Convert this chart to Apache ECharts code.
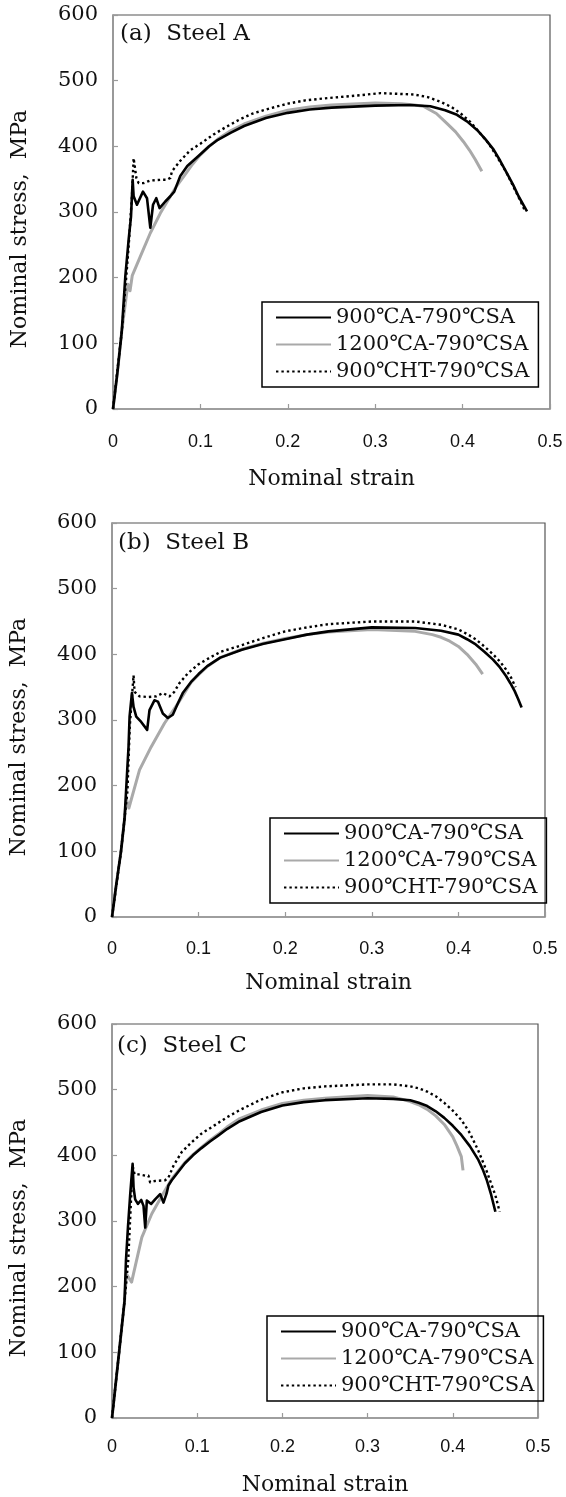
<!DOCTYPE html>
<html>
<head>
<meta charset="utf-8">
<script src="https://cdn.jsdelivr.net/npm/echarts@6/dist/echarts.min.js"></script>
<style>
html,body{margin:0;padding:0;background:#fff;}
#c{width:566px;height:1497px;}
</style>
</head>
<body>
<div id="c"></div>
<script>
// ---- data ----
const seriesNames = ['900℃A-790℃SA', '1200℃A-790℃SA', '900℃HT-790℃SA'];
const panelTitles = ['(a)  Steel A', '(b)  Steel B', '(c)  Steel C'];
const xTicks = [0, 0.1, 0.2, 0.3, 0.4, 0.5];
const yTicks = [0, 100, 200, 300, 400, 500, 600];
const xName = 'Nominal strain';
const yName = 'Nominal stress,  MPa';

// Steel A
const aBlack = [[0,0],[0.005,55],[0.010,118],[0.0141,202],[0.0179,258],[0.0206,293],[0.0225,349],[0.0236,324],[0.0274,311],[0.0343,331],[0.0389,321],[0.0427,276],[0.0458,311],[0.0495,321],[0.0533,306],[0.0598,316],[0.0656,324],[0.0701,331],[0.077,355],[0.085,370],[0.1,388],[0.11,400],[0.12,410],[0.135,421],[0.15,431],[0.175,443],[0.2,451],[0.225,456],[0.25,459],[0.3,462],[0.34,463],[0.363,461],[0.38,455],[0.3936,448],[0.405,438],[0.4165,425],[0.426,411],[0.4355,395],[0.443,378],[0.4508,359],[0.458,341],[0.464,324],[0.4737,301]];
const aGray = [[0,0],[0.005,55],[0.010,118],[0.015,170],[0.017,190],[0.0195,180],[0.022,203],[0.0312,232],[0.0427,268],[0.0541,298],[0.0656,324],[0.073,340],[0.0808,354],[0.09,371],[0.1,387],[0.11,400],[0.12,411],[0.135,424],[0.15,434],[0.175,446],[0.2,455],[0.225,460],[0.25,463],[0.3,466],[0.33,465],[0.345,463],[0.355,461],[0.37,450],[0.382,435],[0.392,422],[0.401,407],[0.408,394],[0.4145,380],[0.422,362]];
const aDot = [[0,0],[0.0103,121],[0.0152,202],[0.0179,248],[0.0217,324],[0.0236,382],[0.0267,352],[0.0293,344],[0.035,344],[0.0427,348],[0.0541,349],[0.0618,349],[0.0656,352],[0.0675,362],[0.077,378],[0.0884,394],[0.1,404],[0.115,418],[0.13,430],[0.145,441],[0.16,450],[0.18,458],[0.2,465],[0.22,470],[0.242,473],[0.284,478],[0.306,481],[0.325,480],[0.344,479],[0.36,475],[0.3745,468],[0.387,460],[0.397,451],[0.409,437],[0.42,420],[0.43,404],[0.439,385],[0.449,363],[0.458,339],[0.465,320],[0.4717,301]];

// Steel B
const bBlack = [[0,0],[0.005,50],[0.0104,100],[0.0145,150],[0.0176,224],[0.0191,259],[0.0203,305],[0.023,341],[0.0249,320],[0.028,305],[0.0337,297],[0.0406,285],[0.0433,315],[0.049,330],[0.053,328],[0.0587,310],[0.0645,303],[0.0702,308],[0.076,325],[0.0817,341],[0.0913,358],[0.1,370],[0.11,382],[0.125,395],[0.15,407],[0.175,416],[0.2,423],[0.225,430],[0.25,435],[0.3,441],[0.35,440],[0.38,436],[0.4,430],[0.41,423],[0.42,415],[0.43,404],[0.44,392],[0.448,380],[0.455,367],[0.46,356],[0.465,344],[0.469,332],[0.473,319]];
const bGray = [[0,0],[0.005,50],[0.0104,100],[0.0145,150],[0.0166,180],[0.0195,166],[0.0318,224],[0.0452,259],[0.0606,295],[0.076,325],[0.0913,357],[0.1,369],[0.1105,382],[0.125,395],[0.15,408],[0.175,417],[0.2,424],[0.225,430],[0.25,434],[0.3,438],[0.35,435],[0.37,430],[0.38,426],[0.39,420],[0.4,412],[0.41,400],[0.42,385],[0.428,370]];
const bDot = [[0,0],[0.0104,100],[0.0145,150],[0.0178,191],[0.0205,290],[0.0249,368],[0.026,343],[0.0318,336],[0.0414,335],[0.051,336],[0.0587,341],[0.0663,336],[0.072,343],[0.0778,356],[0.0875,371],[0.099,384],[0.1143,396],[0.1258,404],[0.15,414],[0.175,425],[0.2,435],[0.225,441],[0.25,446],[0.3,450],[0.35,450],[0.38,445],[0.4,438],[0.41,431],[0.42,423],[0.43,412],[0.44,400],[0.448,389],[0.455,377],[0.461,364],[0.466,350]];

// Steel C
const cBlack = [[0,0],[0.0084,101],[0.0147,178],[0.0164,240],[0.0187,290],[0.0214,341],[0.0242,387],[0.0253,351],[0.0272,333],[0.0304,326],[0.0343,332],[0.037,323],[0.039,290],[0.0409,331],[0.046,326],[0.0506,333],[0.0565,341],[0.0604,328],[0.0643,343],[0.0662,354],[0.0701,362],[0.0856,388],[0.095,400],[0.105,411],[0.115,421],[0.1246,430],[0.135,440],[0.15,452],[0.175,466],[0.2,476],[0.225,481],[0.25,484],[0.3,487],[0.33,486],[0.35,484],[0.36,480],[0.37,475],[0.38,467],[0.39,457],[0.4,445],[0.41,431],[0.42,414],[0.43,393],[0.435,379],[0.44,362],[0.445,340],[0.45,314]];
const cGray = [[0,0],[0.0084,101],[0.0147,178],[0.017,219],[0.023,207],[0.035,275],[0.0467,311],[0.0584,338],[0.0701,364],[0.0856,389],[0.095,401],[0.105,412],[0.115,423],[0.1246,432],[0.135,443],[0.15,456],[0.175,469],[0.2,479],[0.225,484],[0.25,487],[0.3,491],[0.33,489],[0.35,482],[0.36,477],[0.37,470],[0.38,460],[0.39,447],[0.4,428],[0.405,414],[0.41,398],[0.412,377]];
const cDot = [[0,0],[0.0084,101],[0.0147,178],[0.019,239],[0.0242,384],[0.0265,371],[0.0312,371],[0.039,369],[0.0428,369],[0.0447,359],[0.0506,361],[0.0623,362],[0.0662,366],[0.0721,384],[0.0818,405],[0.0935,420],[0.105,433],[0.1207,446],[0.135,458],[0.15,469],[0.175,485],[0.2,496],[0.225,502],[0.25,505],[0.3,508],[0.33,508],[0.35,505],[0.36,502],[0.37,497],[0.38,490],[0.39,480],[0.4,468],[0.41,454],[0.42,434],[0.43,407],[0.44,375],[0.45,339],[0.455,314]];

const panelData = [[aBlack, aGray, aDot], [bBlack, bGray, bDot], [cBlack, cGray, cDot]];

// ---- layout ----
const SERIF = '"DejaVu Serif", "Liberation Serif", serif';
const SANS = '"Liberation Sans", Arial, sans-serif';
const grids = [
  {left: 113, top: 15, width: 437, height: 394},
  {left: 111, top: 523, width: 434, height: 394},
  {left: 110, top: 1024, width: 428, height: 394}
];
const xLabelMargin = [24, 23, 20];
const xNameGap = [59, 55, 56];
const legendPos = [{left: 262, top: 302}, {left: 270, top: 818}, {left: 267, top: 1316}];
const titlePos = [{left: 120, top: 23}, {left: 118, top: 532}, {left: 117, top: 1035}];

const styles = [
  {color: '#000000', width: 2.6, type: 'solid', z: 3},
  {color: '#a9a9a9', width: 3, type: 'solid', z: 2},
  {color: '#000000', width: 2.4, type: [2.4, 3], z: 4}
];

const option = {
  animation: false,
  backgroundColor: '#ffffff',
  grid: grids.map(g => Object.assign({show: true, borderColor: '#555', borderWidth: 1.2, backgroundColor: 'transparent'}, g)),
  title: panelTitles.map((t, i) => ({
    text: t, left: titlePos[i].left, top: titlePos[i].top, padding: 0,
    textStyle: {fontFamily: SERIF, fontSize: 23, fontWeight: 'normal', color: '#111'}
  })),
  legend: legendPos.map((p, i) => ({
    data: seriesNames, orient: 'vertical', left: p.left, top: p.top,
    padding: [5, 9, 5, 13], itemGap: 6, itemWidth: 55, itemHeight: 12, itemTextGap: 6,
    borderColor: '#000', borderWidth: 1.5, selectedMode: false,
    itemStyle: {opacity: 0, borderWidth: 0},
    textStyle: {fontFamily: SERIF, fontSize: 21, color: '#111'}
  })),
  xAxis: grids.map((g, i) => ({
    type: 'value', gridIndex: i, min: xTicks[0], max: xTicks[xTicks.length - 1], interval: 0.1,
    name: xName, nameLocation: 'middle', nameGap: xNameGap[i],
    nameTextStyle: {fontFamily: SERIF, fontSize: 22, color: '#111'},
    axisLine: {show: true, onZero: false, lineStyle: {color: '#9a9a9a', width: 1.5}},
    axisTick: {show: true, inside: true, length: 5, lineStyle: {color: '#9a9a9a', width: 1.2}},
    axisLabel: {margin: xLabelMargin[i], fontFamily: SANS, fontSize: 18, color: '#111',
      formatter: v => String(Math.round(v * 10) / 10)},
    splitLine: {show: false}
  })),
  yAxis: grids.map((g, i) => ({
    type: 'value', gridIndex: i, min: yTicks[0], max: yTicks[yTicks.length - 1], interval: 100,
    name: yName, nameLocation: 'middle', nameGap: 82,
    nameTextStyle: {fontFamily: SERIF, fontSize: 22, color: '#111', padding: [0, 34, 0, 0]},
    axisLine: {show: true, onZero: false, lineStyle: {color: '#9a9a9a', width: 1.5}},
    axisTick: {show: true, inside: true, length: 5, lineStyle: {color: '#9a9a9a', width: 1.2}},
    axisLabel: {margin: 15, fontFamily: SERIF, fontSize: 21, color: '#111'},
    splitLine: {show: false}
  })),
  series: []
};

panelData.forEach((sets, p) => {
  sets.forEach((d, k) => {
    option.series.push({
      name: seriesNames[k], type: 'line', xAxisIndex: p, yAxisIndex: p,
      data: d, showSymbol: false, symbol: 'none', smooth: false, z: styles[k].z,
      lineStyle: {color: styles[k].color, width: styles[k].width, type: styles[k].type, cap: 'butt', join: 'round'},
      itemStyle: {color: styles[k].color}
    });
  });
});

const chart = echarts.init(document.getElementById('c'), null, {renderer: 'canvas'});
chart.setOption(option);
</script>
</body>
</html>
